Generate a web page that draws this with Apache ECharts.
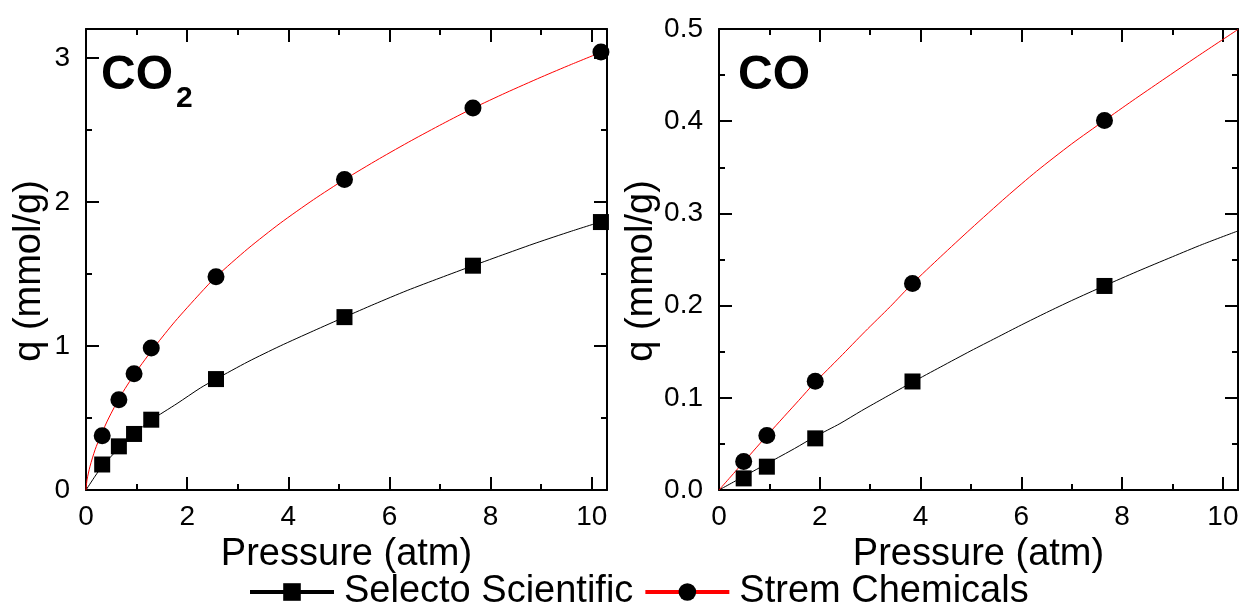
<!DOCTYPE html>
<html>
<head>
<meta charset="utf-8">
<script src="https://cdn.jsdelivr.net/npm/echarts@6/dist/echarts.min.js"></script>
<style>
html,body{margin:0;padding:0;background:#fff;}
#chart{width:1248px;height:609px;}
</style>
</head>
<body>
<div id="chart"></div>
<script>
// ---- Data ----
var seriesNames = ['Selecto Scientific', 'Strem Chemicals'];
var panelLabels = ['CO', 'CO'];

// CO2 panel: measured points
var co2Pressure = [0.32, 0.65, 0.95, 1.29, 2.57, 5.11, 7.65, 10.18];
var co2Selecto  = [0.177, 0.303, 0.389, 0.488, 0.77, 1.20, 1.557, 1.86];
var co2Strem    = [0.377, 0.627, 0.807, 0.985, 1.48, 2.155, 2.651, 3.04];

// CO2 panel: fitted curves
var co2SelectoFitX = [0, 0.18, 0.32, 0.65, 0.95, 1.29, 1.8, 2.26, 2.57, 3.2, 3.84, 4.5, 5.11, 5.7, 6.35, 7.0, 7.65, 8.3, 8.9, 9.6, 10.3];
var co2SelectoFitY = [0, 0.096, 0.165, 0.29, 0.39, 0.485, 0.6, 0.708, 0.77, 0.89, 1.0, 1.105, 1.2, 1.29, 1.385, 1.472, 1.557, 1.64, 1.715, 1.797, 1.875];
var co2StremFitX = [0, 0.02, 0.08, 0.18, 0.29, 0.45, 0.67, 0.97, 1.37, 1.76, 2.26, 2.57, 3.2, 3.84, 4.5, 5.11, 5.8, 6.44, 7.05, 7.65, 8.3, 9.0, 9.6, 10.3];
var co2StremFitY = [0, 0.07, 0.165, 0.28, 0.377, 0.5, 0.645, 0.81, 1.0, 1.17, 1.366, 1.48, 1.675, 1.852, 2.016, 2.155, 2.3, 2.427, 2.542, 2.65, 2.757, 2.866, 2.955, 3.055];

// CO panel: measured points
var coPressure = [0.49, 0.95, 1.91, 3.84, 7.65];
var coSelecto  = [0.0126, 0.0253, 0.056, 0.1177, 0.2213];
var coStrem    = [0.031, 0.059, 0.118, 0.224, 0.4007];

// CO panel: fitted curves
var coSelectoFitX = [0, 0.5, 1, 1.5, 1.91, 2.4, 2.83, 3.3, 3.84, 4.4, 5, 5.5, 6, 6.5, 7, 7.65, 8.3, 9.0, 9.6, 10.3];
var coSelectoFitY = [0, 0.015, 0.03, 0.045, 0.058, 0.072, 0.086, 0.1005, 0.117, 0.1335, 0.151, 0.165, 0.179, 0.1925, 0.2055, 0.2215, 0.237, 0.253, 0.2665, 0.281];
var coStremFitX = [0, 0.5, 1, 1.58, 1.91, 2.4, 2.9, 3.4, 3.84, 4.4, 5.0, 5.7, 6.3, 7.0, 7.65, 8.2, 8.8, 9.5, 10.3];
var coStremFitY = [0, 0.031, 0.062, 0.097, 0.117, 0.144, 0.172, 0.199, 0.224, 0.2531, 0.2834, 0.3177, 0.3456, 0.3754, 0.4008, 0.422, 0.4445, 0.4705, 0.4995];

// Axis ticks
var xTicks = { min: 0, max: 10.3, interval: 2 };
var co2YTicks = { min: 0, max: 3.2, interval: 1 };
var coYTicks = { min: 0, max: 0.5, interval: 0.1 };
var xTitle = 'Pressure (atm)';
var yTitle = 'q (mmol/g)';

// ---- Build ----
function pairs(xs, ys) { return xs.map(function (x, i) { return [x, ys[i]]; }); }

var FONT = 'Liberation Sans, Arial, sans-serif';
var chart = echarts.init(document.getElementById('chart'), null, { renderer: 'canvas' });

function xAxisPair(gi) {
  var common = {
    gridIndex: gi, type: 'value', min: xTicks.min, max: xTicks.max, interval: xTicks.interval,
    axisLine: { show: true, onZero: false, lineStyle: { color: '#000', width: 2 } },
    axisTick: { show: true, inside: true, length: 13, lineStyle: { color: '#000', width: 2 } },
    minorTick: { show: true, splitNumber: 2, length: 6, lineStyle: { color: '#000', width: 2 } },
    splitLine: { show: false }
  };
  var bottom = Object.assign({}, common, {
    position: 'bottom',
    axisLabel: { show: true, margin: 13, color: '#000', fontSize: 28, fontFamily: FONT, showMaxLabel: false },
    name: xTitle, nameLocation: 'middle', nameGap: 28,
    nameTextStyle: { color: '#000', fontSize: 38, fontFamily: FONT }
  });
  var top = Object.assign({}, common, { position: 'top', axisLabel: { show: false } });
  return [bottom, top];
}

function yAxisPair(gi, t, fmt, showMax) {
  var common = {
    gridIndex: gi, type: 'value', min: t.min, max: t.max, interval: t.interval,
    axisLine: { show: true, onZero: false, lineStyle: { color: '#000', width: 2 } },
    axisTick: { show: true, inside: true, length: 13, lineStyle: { color: '#000', width: 2 } },
    minorTick: { show: true, splitNumber: 2, length: 6, lineStyle: { color: '#000', width: 2 } },
    splitLine: { show: false }
  };
  var left = Object.assign({}, common, {
    position: 'left',
    axisLabel: { show: true, margin: 16, color: '#000', fontSize: 28, fontFamily: FONT, formatter: fmt, showMaxLabel: showMax },
    name: yTitle, nameLocation: 'middle', nameGap: 37,
    nameTextStyle: { color: '#000', fontSize: 38, fontFamily: FONT, padding: [0, 23, 0, 0] }
  });
  var right = Object.assign({}, common, { position: 'right', axisLabel: { show: false } });
  return [left, right];
}

function panelSeries(ax, selFit, stFit, selPts, stPts) {
  return [
    { name: seriesNames[0], type: 'line', xAxisIndex: ax.x, yAxisIndex: ax.y, data: selFit,
      smooth: 0.25, showSymbol: false, symbol: 'rect', symbolSize: 16,
      itemStyle: { color: '#000' }, lineStyle: { color: '#000', width: 1 }, z: 2, silent: true },
    { name: seriesNames[1], type: 'line', xAxisIndex: ax.x, yAxisIndex: ax.y, data: stFit,
      smooth: 0.25, showSymbol: false, symbol: 'circle', symbolSize: 17,
      itemStyle: { color: '#000' }, lineStyle: { color: '#ff0000', width: 1 }, z: 2, silent: true },
    { name: seriesNames[0], type: 'scatter', xAxisIndex: ax.x, yAxisIndex: ax.y, data: selPts,
      symbol: 'rect', symbolSize: 16, itemStyle: { color: '#000', opacity: 1 }, z: 3 },
    { name: seriesNames[1], type: 'scatter', xAxisIndex: ax.x, yAxisIndex: ax.y, data: stPts,
      symbol: 'circle', symbolSize: 17, itemStyle: { color: '#000', opacity: 1 }, z: 3 }
  ];
}

var xa0 = xAxisPair(0), xa1 = xAxisPair(1);
var ya0 = yAxisPair(0, co2YTicks, function (v) { return String(v); }, false);
var ya1 = yAxisPair(1, coYTicks, function (v) { return v.toFixed(1); }, true);

var option = {
  animation: false,
  backgroundColor: '#fff',
  textStyle: { fontFamily: FONT },
  grid: [
    { left: 86, top: 29, width: 521, height: 461, containLabel: false, outerBoundsMode: 'none' },
    { left: 719, top: 29, width: 519, height: 461, containLabel: false, outerBoundsMode: 'none' }
  ],
  xAxis: [xa0[0], xa0[1], xa1[0], xa1[1]],
  yAxis: [ya0[0], ya0[1], ya1[0], ya1[1]],
  legend: {
    data: seriesNames, left: 243, top: 568, itemWidth: 84, itemHeight: 22, itemGap: 10,
    textStyle: { color: '#000', fontSize: 38, fontFamily: FONT, padding: [0, 0, 0, 5] },
    lineStyle: { width: 4 }
  },
  graphic: [
    { type: 'text', left: 101, top: 52, style: { text: panelLabels[0], font: 'bold 48px ' + FONT, fill: '#000' } },
    { type: 'text', left: 176, top: 84, style: { text: '2', font: 'bold 30px ' + FONT, fill: '#000' } },
    { type: 'text', left: 738, top: 52, style: { text: panelLabels[1], font: 'bold 48px ' + FONT, fill: '#000' } }
  ],
  series: [].concat(
    panelSeries({ x: 0, y: 0 }, pairs(co2SelectoFitX, co2SelectoFitY), pairs(co2StremFitX, co2StremFitY),
      pairs(co2Pressure, co2Selecto), pairs(co2Pressure, co2Strem)),
    panelSeries({ x: 2, y: 2 }, pairs(coSelectoFitX, coSelectoFitY), pairs(coStremFitX, coStremFitY),
      pairs(coPressure, coSelecto), pairs(coPressure, coStrem))
  )
};
chart.setOption(option);
</script>
</body>
</html>
